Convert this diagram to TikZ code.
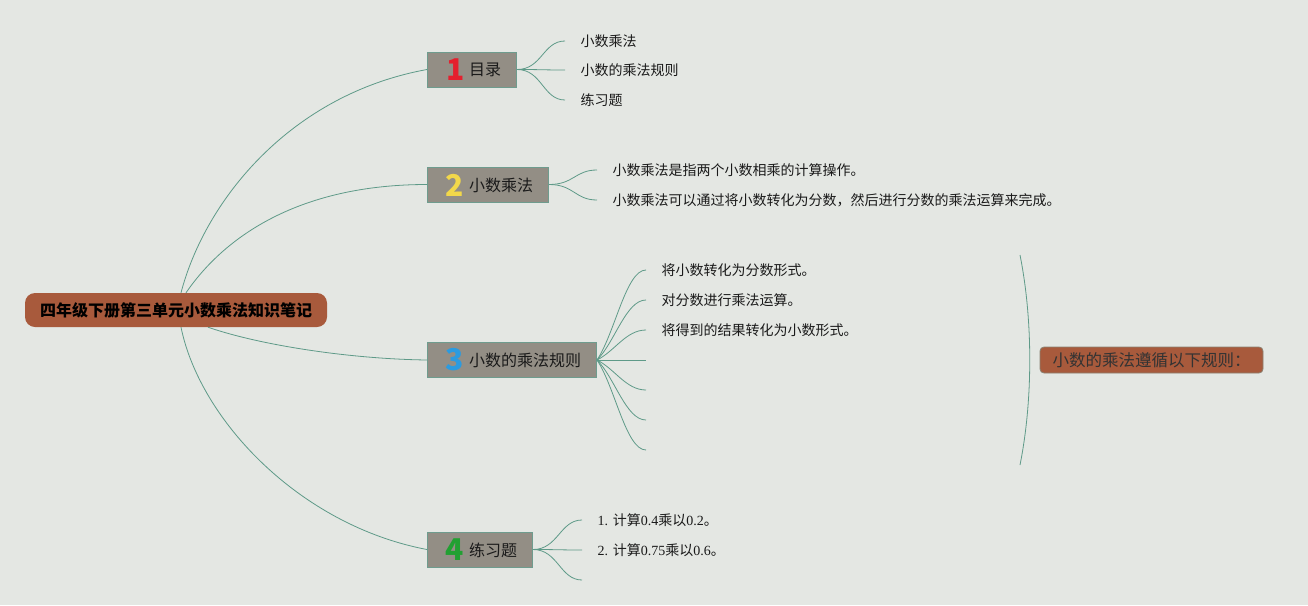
\documentclass[tikz,border=0pt]{standalone}
\usepackage{fontspec}
\setmainfont{Noto Sans CJK SC}
\newfontfamily\lat{Liberation Serif}
\definecolor{bgc}{HTML}{E4E7E3}
\definecolor{boxfill}{HTML}{938E85}
\definecolor{boxline}{HTML}{6E9C8E}
\definecolor{rootc}{HTML}{A85A3C}
\definecolor{connc}{HTML}{5E9A88}
\definecolor{sumline}{HTML}{8A8272}
\definecolor{numA}{HTML}{E4202E}
\definecolor{numB}{HTML}{F2D84A}
\definecolor{numC}{HTML}{2B9BE0}
\definecolor{numD}{HTML}{22A032}
\definecolor{txt}{HTML}{1A1A1A}
\begin{document}
\begin{tikzpicture}[x=1pt,y=-1pt,
  conn/.style={draw=connc, line width=0.8pt},
  rootbox/.style={fill=rootc, rounded corners=10pt, minimum width=302pt, minimum height=34pt, inner sep=0pt, text=black,
    font=\fontsize{16}{16}\selectfont\bfseries},
  topic/.style={draw=boxline, fill=boxfill, line width=1pt, minimum height=35pt, inner sep=0pt, anchor=west},
  numlbl/.style={inner sep=0pt, font=\fontsize{30}{30}\selectfont\bfseries},
  topiclbl/.style={inner sep=0pt, anchor=west, text=txt, font=\fontsize{16}{16}\selectfont},
  leaf/.style={anchor=west, inner xsep=15.5pt, inner ysep=2pt, text=txt, font=\fontsize{14}{14}\selectfont},
  sumbox/.style={fill=rootc, draw=sumline, line width=0.8pt, rounded corners=4pt, minimum width=223pt, minimum height=26pt,
    inner sep=0pt, text=black!80, font=\fontsize{16.5}{16.5}\selectfont}
]
\fill[bgc] (0,0) rectangle (1308,605);
\useasboundingbox (0,0) rectangle (1308,605);

% root
\node[rootbox] (root) at (176,310) {四年级下册第三单元小数乘法知识笔记};

% topics
\node[topic, minimum width=89pt] (n1) at (427,69.5) {};
\node[topic, minimum width=121pt] (n2) at (427,184.5) {};
\node[topic, minimum width=169pt] (n3) at (427,360) {};
\node[topic, minimum width=105pt] (n4) at (427,549.5) {};

\node[numlbl, text=numA] (k1) at (456,70) {1};
\node[numlbl, text=numB] (k2) at (455,185) {2};
\node[numlbl, text=numC] (k3) at (454.5,360) {3};
\node[numlbl, text=numD] (k4) at (454.5,550) {4};

\node[topiclbl] (l1) at (469,70) {目录};
\node[topiclbl] (l2) at (469,185) {小数乘法};
\node[topiclbl] (l3) at (469,360) {小数的乘法规则};
\node[topiclbl] (l4) at (469,550) {练习题};

% root connectors
\draw[conn] ([xshift=5pt]root.north) .. controls +(24,-92) and +(-137,25) .. (n1.west);
\draw[conn] ([xshift=10pt]root.north) .. controls +(39,-57) and +(-127,0) .. (n2.west);
\draw[conn] ([xshift=32pt]root.south) .. controls +(52,18) and +(-77,-1) .. (n3.west);
\draw[conn] ([xshift=5pt]root.south) .. controls +(19,93) and +(-127,-24) .. (n4.west);

% topic 1 leaves
\node[leaf] (t11) at (565,41) {小数乘法};
\node[leaf] (t12) at (565,70) {小数的乘法规则};
\node[leaf] (t13) at (565,100) {练习题};
\foreach \t in {t11,t12,t13}
  \draw[conn] (n1.east) .. controls +(25,0) and +(-22,0) .. (\t.west);

% topic 2 leaves
\node[leaf] (t21) at (597,170) {小数乘法是指两个小数相乘的计算操作。};
\node[leaf] (t22) at (597,200) {小数乘法可以通过将小数转化为分数，然后进行分数的乘法运算来完成。};
\foreach \t in {t21,t22}
  \draw[conn] (n2.east) .. controls +(25,0) and +(-22,0) .. (\t.west);

% topic 3 leaves
\node[leaf] (t31) at (646,270) {将小数转化为分数形式。};
\node[leaf] (t32) at (646,300) {对分数进行乘法运算。};
\node[leaf] (t33) at (646,330) {将得到的结果转化为小数形式。};
\coordinate (c34) at (646,360);
\coordinate (c35) at (646,390);
\coordinate (c36) at (646,420);
\coordinate (c37) at (646,450);
\draw[conn] (n3.east) .. controls +(18,-27) and +(-20,0) .. (t31.west);
\draw[conn] (n3.east) .. controls +(18,-18) and +(-20,0) .. (t32.west);
\draw[conn] (n3.east) .. controls +(18,-9) and +(-20,0) .. (t33.west);
\draw[conn] (n3.east) -- (c34);
\draw[conn] (n3.east) .. controls +(18,9) and +(-20,0) .. (c35);
\draw[conn] (n3.east) .. controls +(18,18) and +(-20,0) .. (c36);
\draw[conn] (n3.east) .. controls +(18,27) and +(-20,0) .. (c37);

% summary bracket and box
\coordinate (b1) at (1020,255);
\coordinate (b2) at (1020,465);
\draw[conn] (b1) .. controls (1033,320) and (1033,400) .. (b2);
\node[sumbox] (sum) at (1151.5,360) {小数的乘法遵循以下规则：};

% topic 4 leaves
\node[leaf] (t41) at (582,520) {{\lat 1. }计算{\lat 0.4}乘以{\lat 0.2}。};
\node[leaf] (t42) at (582,550) {{\lat 2. }计算{\lat 0.75}乘以{\lat 0.6}。};
\coordinate (c43) at (582,580);
\draw[conn] (n4.east) .. controls +(25,0) and +(-22,0) .. (t41.west);
\draw[conn] (n4.east) .. controls +(25,0) and +(-22,0) .. (t42.west);
\draw[conn] (n4.east) .. controls +(25,0) and +(-22,0) .. (c43);
\end{tikzpicture}
\end{document}
